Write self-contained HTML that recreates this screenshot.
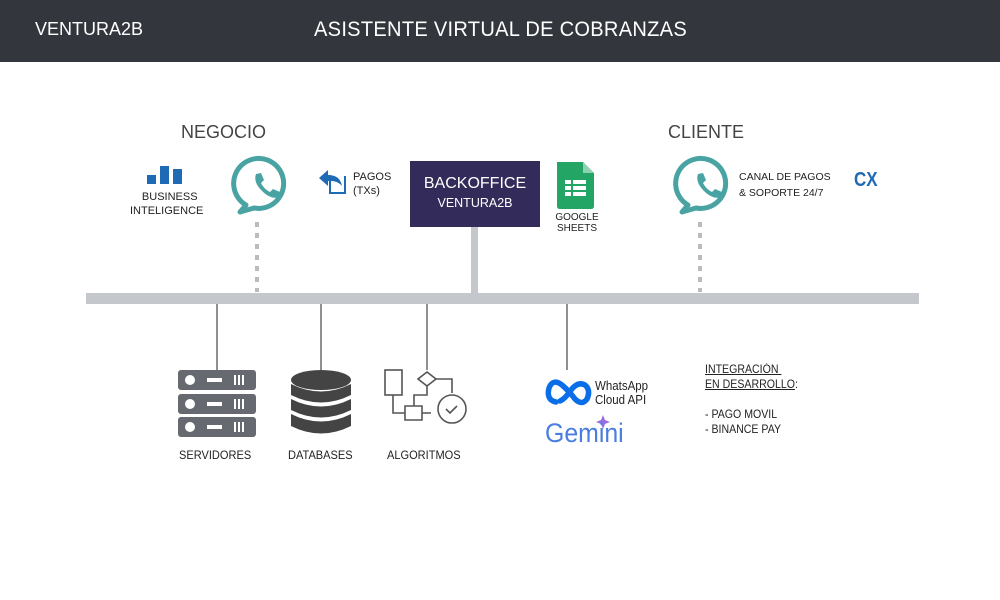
<!DOCTYPE html>
<html><head><meta charset="utf-8"><style>
body{margin:0;width:1000px;height:600px;background:#fff;position:relative;overflow:hidden;font-family:"Liberation Sans",sans-serif;}
.t{position:absolute;white-space:nowrap;}
</style></head><body>
<div style="position:absolute;left:0;top:0;width:1000px;height:62px;background:#33373d"></div>
<div class="t" style="left:35px;top:19px;color:#fff;font-size:18px">VENTURA2B</div>
<div class="t" style="left:314px;top:18px;color:#fff;font-size:21px;letter-spacing:0.3px;transform:scaleX(0.955);transform-origin:left">ASISTENTE VIRTUAL DE COBRANZAS</div>
<div class="t" style="left:181px;top:122px;color:#444;font-size:18px">NEGOCIO</div>
<div class="t" style="left:668px;top:122px;color:#444;font-size:18px">CLIENTE</div>
<svg width="1000" height="600" style="position:absolute;left:0;top:0">
<rect x="86" y="293" width="833" height="11" fill="#c4c7cb"/>
<rect x="471" y="227" width="7" height="67" fill="#c4c7cb"/>
<line x1="257" y1="222" x2="257" y2="292" stroke="#bbb" stroke-width="4" stroke-dasharray="5,6"/>
<line x1="700" y1="222" x2="700" y2="292" stroke="#bbb" stroke-width="4" stroke-dasharray="5,6"/>
<g stroke="#555" stroke-width="1.3">
<line x1="217" y1="304" x2="217" y2="370"/><line x1="321" y1="304" x2="321" y2="370"/>
<line x1="427" y1="304" x2="427" y2="370"/><line x1="567" y1="304" x2="567" y2="370"/></g>
<rect x="410" y="161" width="130" height="66" fill="#332c5a"/>
<g fill="#1f6ab5"><rect x="147" y="175" width="9" height="9"/><rect x="160" y="166" width="9" height="18"/><rect x="173" y="169" width="9" height="15"/></g>
<g transform="translate(8,0)">
<path d="M238 205 A25 25 0 1 1 246 208 L232 212 Z" fill="none" stroke="#4aa3a3" stroke-width="5" stroke-linejoin="round"/>
<path d="M248 174 l5 -1 l3 7 l-3 3 q3 6 9 9 l3 -3 l7 3 l-1 5 q-8 3 -17 -6 q-9 -9 -6 -17z" fill="#4aa3a3"/></g>
<g transform="translate(7,0)">
<path d="M681 205 A25 25 0 1 1 689 208 L675 212 Z" fill="none" stroke="#4aa3a3" stroke-width="5" stroke-linejoin="round"/>
<path d="M691 174 l5 -1 l3 7 l-3 3 q3 6 9 9 l3 -3 l7 3 l-1 5 q-8 3 -17 -6 q-9 -9 -6 -17z" fill="#4aa3a3"/></g>
<path d="M330 176 v17 h15 v-17" fill="none" stroke="#1f6ab5" stroke-width="2"/>
<path d="M319 178 l9 -8 v5 q12 0 14 11 q-5 -6 -14 -5 v5z" fill="#1f6ab5"/>
<path d="M557 162 h26 l11 11 v33 q0 3 -3 3 h-31 q-3 0 -3 -3z" fill="#22a565"/>
<path d="M583 162 v11 h11z" fill="#8ed1b1"/>
<rect x="565" y="180" width="21" height="16" fill="#fff"/>
<g stroke="#22a565" stroke-width="2"><line x1="565" y1="185" x2="586" y2="185"/><line x1="565" y1="191" x2="586" y2="191"/><line x1="572" y1="180" x2="572" y2="196"/></g>
<g fill="#666a70"><rect x="178" y="370" width="78" height="20" rx="3"/><rect x="178" y="394" width="78" height="20" rx="3"/><rect x="178" y="417" width="78" height="20" rx="3"/></g>
<g fill="#fff"><circle cx="190" cy="380" r="5"/><circle cx="190" cy="404" r="5"/><circle cx="190" cy="427" r="5"/>
<rect x="207" y="378" width="15" height="4"/><rect x="207" y="402" width="15" height="4"/><rect x="207" y="425" width="15" height="4"/>
<rect x="234" y="375" width="2" height="10"/><rect x="238" y="375" width="2" height="10"/><rect x="242" y="375" width="2" height="10"/>
<rect x="234" y="399" width="2" height="10"/><rect x="238" y="399" width="2" height="10"/><rect x="242" y="399" width="2" height="10"/>
<rect x="234" y="422" width="2" height="10"/><rect x="238" y="422" width="2" height="10"/><rect x="242" y="422" width="2" height="10"/></g>
<g fill="#444"><ellipse cx="321" cy="380" rx="30" ry="10"/>
<path d="M291 384 q30 15 60 0 v11 q-30 15 -60 0z"/>
<path d="M291 399 q30 15 60 0 v11 q-30 15 -60 0z"/>
<path d="M291 414 q30 15 60 0 v12 q-30 15 -60 0z"/></g>
<g fill="none" stroke="#555" stroke-width="1.6">
<rect x="385" y="370" width="17" height="25"/>
<path d="M427 372 l9 7 l-9 7 l-9 -7z"/>
<path d="M393 395 v18 h12 M405 406 h17 v14 h-17z M422 413 h9 M436 379 h16 v14 M414 406 v-11 h13 v-9"/>
<circle cx="452" cy="409" r="14"/><path d="M446 409 l4 4 l7 -7"/></g>
<path d="M556 402 q-10 -2 -7 -14 q4 -10 13 -3 q7 6 13 14 q7 7 12 0 q4 -9 -2 -14 q-7 -4 -14 5 q-6 9 -11 11" fill="none" stroke="#0a6ee8" stroke-width="5.5" stroke-linecap="round"/>
<path d="M603 415 l2 5 l5 2 l-5 2 l-2 5 l-2 -5 l-5 -2 l5 -2z" fill="#9b6de0"/>
</svg>
<div class="t" style="left:130px;top:190px;font-size:11px;color:#222;text-align:center;line-height:14px">&nbsp;&nbsp;BUSINESS<br>INTELIGENCE</div>
<div class="t" style="left:353px;top:170px;font-size:11px;color:#222;line-height:14px">PAGOS<br>(TXs)</div>
<div class="t" style="left:410px;top:175px;width:130px;text-align:center;color:#fff;font-size:16px">BACKOFFICE</div>
<div class="t" style="left:410px;top:196px;width:130px;text-align:center;color:#fff;font-size:12.5px">VENTURA2B</div>
<div class="t" style="left:553px;top:212px;width:48px;text-align:center;font-size:10px;color:#222;line-height:11px">GOOGLE<br>SHEETS</div>
<div class="t" style="left:739px;top:169px;font-size:10.5px;color:#222;line-height:16px">CANAL DE PAGOS<br>&amp; SOPORTE 24/7</div>
<div class="t" style="left:854px;top:169px;font-size:20px;color:#1f6ab5;font-weight:bold;transform:scaleX(0.85);transform-origin:left">CX</div>
<div class="t" style="left:179px;top:448px;font-size:12px;color:#222;transform:scaleX(0.92);transform-origin:left">SERVIDORES</div>
<div class="t" style="left:288px;top:448px;font-size:12px;color:#222;transform:scaleX(0.92);transform-origin:left">DATABASES</div>
<div class="t" style="left:387px;top:448px;font-size:12px;color:#222;transform:scaleX(0.92);transform-origin:left">ALGORITMOS</div>
<div class="t" style="left:595px;top:379px;font-size:12.5px;color:#222;line-height:14px;transform:scaleX(0.92);transform-origin:left">WhatsApp<br>Cloud API</div>
<div class="t" style="left:545px;top:418px;font-size:27px;color:#4a7de0;transform:scaleX(0.92);transform-origin:left">Gemini</div>
<div class="t" style="left:705px;top:363px;font-size:11.5px;color:#222;line-height:15px;transform:scaleX(0.92);transform-origin:left"><u>INTEGRACIÓN&nbsp;</u><br><u>EN DESARROLLO</u>:<br><br>- PAGO MOVIL<br>- BINANCE PAY</div>
</body></html>
